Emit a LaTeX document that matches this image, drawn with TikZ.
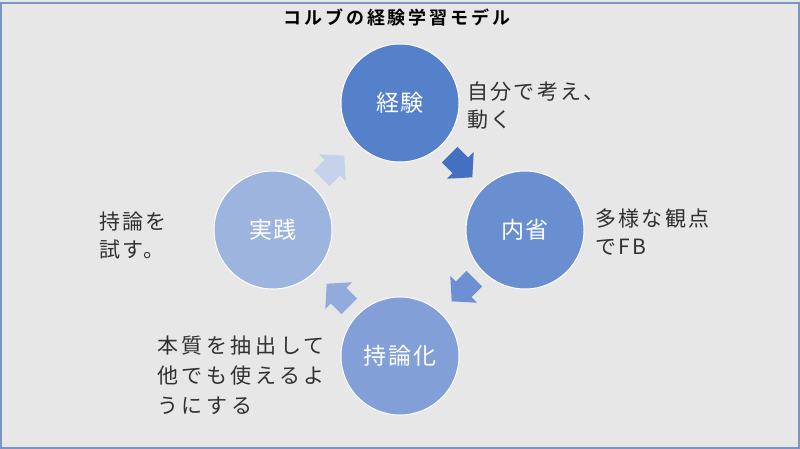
\documentclass[tikz,border=0pt]{standalone}
\usepackage{fontspec}
\setmainfont{Noto Sans CJK JP}
\newfontfamily\sidefont[LetterSpace=11]{Noto Sans CJK JP}
\newfontfamily\widefont[LetterSpace=17]{Noto Sans CJK JP}
\newfontfamily\circfont[LetterSpace=8]{Noto Sans CJK JP}
\newfontfamily\titlefont[LetterSpace=16]{Noto Sans CJK JP Bold}
\definecolor{bgc}{HTML}{E7E7E7}
\definecolor{framec}{HTML}{7A94C4}
\definecolor{cA}{HTML}{5580CA}
\definecolor{cB}{HTML}{6A8FD0}
\definecolor{cC}{HTML}{82A0D7}
\definecolor{cD}{HTML}{9CB4DE}
\definecolor{aA}{HTML}{4470C2}
\definecolor{aB}{HTML}{6F8FD3}
\definecolor{aC}{HTML}{93ABDC}
\definecolor{aD}{HTML}{C5D2EC}
\definecolor{txt}{HTML}{303030}
\tikzset{
  stage/.style={circle, minimum size=118pt, inner sep=0pt, draw=white, line width=1pt,
    text=white, font=\circfont\fontsize{23pt}{23pt}\selectfont},
  side/.style={anchor=west, inner sep=0pt, align=left, text=txt,
    font=\sidefont\fontsize{21pt}{28pt}\selectfont},
  barrow/.pic={\fill[pic actions] (-16,-11) -- (-1,-11) -- (-1,-19) -- (16,0) -- (-1,19) -- (-1,11) -- (-16,11) -- cycle;}
}
\begin{document}
\begin{tikzpicture}[x=1pt,y=-1pt]
\useasboundingbox (0,0) rectangle (800,449);
\fill[bgc] (0,0) rectangle (800,449);
\draw[framec, line width=2pt] (1,3) rectangle (798.5,447.5);
\node[inner sep=0pt, text=black, font=\titlefont\fontsize{18pt}{18pt}\selectfont] (title) at (397,18) {コルブの経験学習モデル};
\node[stage, fill=cA] (keiken) at (400,103) {経験};
\node[stage, fill=cB] (naisei) at (525,230) {内省};
\node[stage, fill=cC] (jiron) at (400,356) {持論化};
\node[stage, fill=cD] (jissen) at (273,230) {実践};
\pic[fill=aA, rotate=-45] at (461,166) {barrow};
\pic[fill=aB, rotate=-135] at (463,290) {barrow};
\pic[fill=aC, rotate=135] at (338,295) {barrow};
\pic[fill=aD, rotate=45] at (333,167) {barrow};
\node[side] (t1) at (467,106) {自分で考え、\\動く};
\node[side] (t2) at (595,232) {多様な観点\\でFB};
\node[side] (t3) at (99,236) {持論を\\試す。};
\node[side, font=\widefont\fontsize{21pt}{30pt}\selectfont] (t4) at (157,375) {本質を抽出して\\他でも使えるよ\\うにする};
\end{tikzpicture}
\end{document}
